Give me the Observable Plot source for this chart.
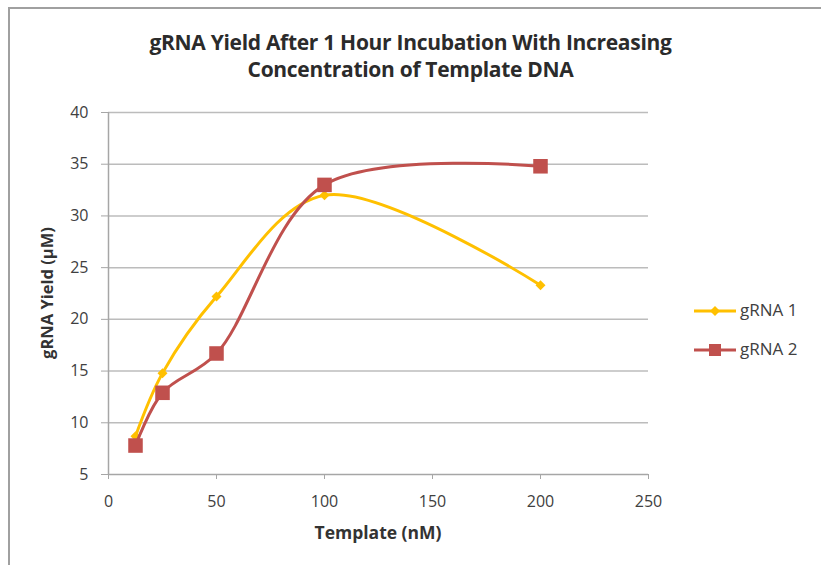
<!DOCTYPE html>
<html>
<head>
<meta charset="utf-8">
<script src="https://cdn.jsdelivr.net/npm/d3@7"></script>
<script src="https://cdn.jsdelivr.net/npm/@observablehq/plot@0.6"></script>
<style>
  html, body { margin: 0; padding: 0; background: #fff; width: 821px; height: 565px; overflow: hidden; }
  #frame { position: absolute; left: 8px; top: 7px; width: 830px; height: 580px; border: 2px solid #a0a0a0; box-sizing: border-box; }
  #chart { position: absolute; left: 0; top: 0; }
  .txt { position: absolute; font-family: "Open Sans", sans-serif; color: #333; white-space: nowrap; }
  #title { left: 0; width: 821px; top: 29px; text-align: center; font-weight: bold; font-size: 21px; line-height: 27px; color: #2b2b2b; letter-spacing: -0.3px; }
  #xlabel { left: 108px; width: 540px; text-align: center; top: 520px; font-weight: bold; font-size: 17.5px; line-height: 24px; }
  #ylabel { left: 46px; top: 293px; font-weight: bold; font-size: 16.5px; transform: translate(-50%, -50%) rotate(-90deg); }
  .leg { position: absolute; font-family: "Open Sans", sans-serif; font-size: 17px; color: #404040; line-height: 22px; }
  svg text { font-family: "Open Sans", sans-serif; }
</style>
</head>
<body>
<div id="frame"></div>
<div id="chart"></div>
<div class="txt" id="title">gRNA Yield After 1 Hour Incubation With Increasing<br>Concentration of Template DNA</div>
<div class="txt" id="xlabel">Template (nM)</div>
<div class="txt" id="ylabel">gRNA Yield (µM)</div>
<div id="legend"></div>
<script>
const template = [12.5, 25, 50, 100, 200];
const gRNA1 = [8.7, 14.8, 22.2, 32.0, 23.3];
const gRNA2 = [7.8, 12.9, 16.7, 33.0, 34.8];
const seriesNames = ["gRNA 1", "gRNA 2"];
const seriesColors = ["#FFC000", "#C0504D"];
const xTicks = [0, 50, 100, 150, 200, 250];
const yTicks = [5, 10, 15, 20, 25, 30, 35, 40];

const d1 = template.map((t, i) => ({x: t, y: gRNA1[i]}));
const d2 = template.map((t, i) => ({x: t, y: gRNA2[i]}));

const plot = Plot.plot({
  width: 821,
  height: 565,
  marginLeft: 108,
  marginRight: 173,
  marginTop: 112,
  marginBottom: 91,
  style: {background: "transparent", fontFamily: "'Open Sans', sans-serif"},
  x: {domain: [0, 250]},
  y: {domain: [5, 40]},
  marks: [
    Plot.gridY(yTicks.filter(v => v > 5), {stroke: "#bcbcbc", strokeOpacity: 1, strokeWidth: 1.5}),
    Plot.ruleY([5], {stroke: "#a6a6a6", strokeWidth: 1.5}),
    Plot.ruleX([0], {stroke: "#a6a6a6", strokeWidth: 1.5}),
    Plot.axisY({ticks: yTicks, tickSize: 7, tickPadding: 13, stroke: "#a6a6a6", fill: "#404040", fontSize: 16, label: null, tickFormat: d => d}),
    Plot.axisX({ticks: xTicks, tickSize: 5, tickPadding: 16, stroke: "#a6a6a6", fill: "#404040", fontSize: 16, label: null, tickFormat: d => d}),
    Plot.line(d1, {x: "x", y: "y", stroke: seriesColors[0], strokeWidth: 3, curve: "catmull-rom"}),
    Plot.dot(d1, {x: "x", y: "y", symbol: "diamond2", r: 4.5, fill: seriesColors[0], stroke: "none"}),
    Plot.line(d2, {x: "x", y: "y", stroke: seriesColors[1], strokeWidth: 3, curve: "catmull-rom"}),
    Plot.dot(d2, {x: "x", y: "y", symbol: "square", r: 8.2, fill: seriesColors[1], stroke: "none"})
  ]
});
document.getElementById("chart").appendChild(plot);

// legend
const leg = document.getElementById("legend");
const legY = [311, 350];
seriesNames.forEach((name, i) => {
  const s = document.createElementNS("http://www.w3.org/2000/svg", "svg");
  s.setAttribute("width", 44); s.setAttribute("height", 20);
  s.style.position = "absolute"; s.style.left = "694px"; s.style.top = (legY[i] - 10) + "px";
  const ln = document.createElementNS("http://www.w3.org/2000/svg", "line");
  ln.setAttribute("x1", 0); ln.setAttribute("x2", 42); ln.setAttribute("y1", 10); ln.setAttribute("y2", 10);
  ln.setAttribute("stroke", seriesColors[i]); ln.setAttribute("stroke-width", 3);
  s.appendChild(ln);
  const m = document.createElementNS("http://www.w3.org/2000/svg", "path");
  m.setAttribute("d", i === 0 ? "M21,5L26,10L21,15L16,10Z" : "M15,4H27V16H15Z");
  m.setAttribute("fill", seriesColors[i]);
  s.appendChild(m);
  leg.appendChild(s);
  const t = document.createElement("div");
  t.className = "leg"; t.textContent = name;
  t.style.left = "740px"; t.style.top = (legY[i] - 12) + "px";
  leg.appendChild(t);
});
</script>
</body>
</html>
